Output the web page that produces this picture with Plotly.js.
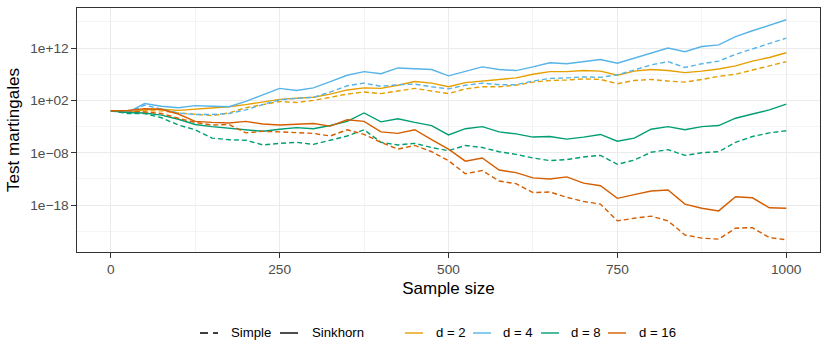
<!DOCTYPE html>
<html>
<head>
<meta charset="utf-8">
<script src="https://cdn.plot.ly/plotly-3.0.1.min.js"></script>
<style>html,body{margin:0;padding:0;background:#fff;}#chart{width:830px;height:363px;}</style>
</head>
<body>
<div id="chart"></div>
<script>
// Sample size grid (x)
const sampleSize = [0,25,50,75,100,125,150,175,200,225,250,275,300,325,350,375,400,425,450,475,500,
  525,550,575,600,625,650,675,700,725,750,775,800,825,850,875,900,925,950,975,1000];

// log10 of the test martingale
const simple_d2 = [0,-0.3,0.0,0.0,-0.4,-0.6,-0.9,-0.4,0.6,1.2,1.8,1.6,2.0,2.6,3.2,3.6,3.3,3.8,4.3,3.8,3.3,
  4.2,4.6,4.6,4.9,5.5,5.8,5.9,6.1,6.0,5.2,5.8,6.0,5.7,5.5,6.0,6.6,7.0,7.8,8.6,9.4];
const sinkhorn_d2 = [0,-0.2,0.2,0.3,0.1,0.3,0.5,0.8,1.2,1.7,2.2,2.4,2.6,3.2,4.0,4.4,4.3,4.9,5.6,5.3,4.6,
  5.4,5.7,6.0,6.3,7.0,7.5,7.5,7.7,7.6,6.8,7.6,7.9,7.7,7.3,7.6,8.0,8.6,9.5,10.2,11.1];
const simple_d4 = [0,-0.4,1.1,0.4,-0.4,-0.7,-0.7,-0.5,0.2,1.2,2.1,2.4,2.6,3.6,4.8,5.3,4.7,5.0,5.1,4.6,4.2,
  4.9,5.3,5.0,5.0,5.7,6.2,6.3,6.5,6.4,6.9,7.8,8.8,9.4,8.3,9.0,9.5,10.8,11.8,12.8,13.9];
const sinkhorn_d4 = [0,-0.3,1.4,0.9,0.6,1.0,0.9,0.8,1.8,3.0,4.3,3.9,4.4,5.6,6.8,7.5,7.1,8.2,8.1,7.9,6.7,
  7.6,8.4,7.9,7.7,8.4,9.2,9.0,9.4,9.8,9.1,10.1,11.0,12.0,11.3,12.3,12.6,14.2,15.3,16.3,17.4];
const simple_d8 = [0,-0.5,-0.5,-1.3,-2.7,-3.6,-5.2,-5.5,-5.6,-6.5,-6.2,-6.0,-6.4,-5.6,-4.8,-3.6,-6.0,-6.5,-6.2,-7.0,-7.6,
  -6.6,-7.0,-7.8,-8.3,-9.0,-9.5,-9.3,-8.8,-8.5,-10.2,-9.4,-7.9,-7.4,-8.5,-8.0,-7.8,-6.0,-4.9,-4.2,-3.8];
const sinkhorn_d8 = [0,-0.3,-0.4,-0.8,-1.6,-2.6,-3.0,-3.3,-3.6,-3.9,-3.5,-3.2,-3.4,-2.8,-2.0,-0.4,-2.1,-1.5,-2.2,-2.8,-4.6,
  -3.4,-3.0,-4.0,-4.4,-5.0,-4.9,-5.4,-5.0,-4.5,-5.8,-5.2,-3.5,-3.0,-3.6,-3.0,-2.8,-1.4,-0.6,0.2,1.3];
const simple_d16 = [0,0,-0.2,-0.5,-1.4,-2.2,-2.7,-2.6,-4.2,-3.9,-4.0,-4.1,-4.3,-4.8,-3.6,-4.5,-6.0,-7.3,-6.6,-7.8,-9.5,
  -12.0,-11.4,-13.4,-13.9,-15.6,-15.5,-16.5,-17.3,-17.8,-21.0,-20.5,-20.1,-21.0,-23.7,-24.3,-24.5,-22.4,-22.3,-24.2,-24.6];
const sinkhorn_d16 = [0,0.1,0.4,0.3,-0.6,-2.0,-2.2,-2.3,-2.0,-2.5,-2.7,-2.6,-2.4,-2.9,-1.7,-2.0,-4.0,-4.3,-3.6,-5.5,-7.3,
  -9.6,-9.0,-11.3,-11.8,-12.8,-13.0,-12.6,-13.8,-14.3,-16.7,-16.0,-15.3,-15.1,-17.8,-18.6,-19.1,-16.4,-16.6,-18.5,-18.6];

const dimLabels = ["d = 2","d = 4","d = 8","d = 16"];
const methodLabels = ["Simple","Sinkhorn"];
const yTickVals = [1e-18,1e-8,1e2,1e12];
const yTickText = ["1e\u221218","1e\u221208","1e+02","1e+12"];
const xTickVals = [0,250,500,750,1000];

const colors = ["#E69F00","#56B4E9","#009E73","#D55E00"];
const seriesSets = [
  [simple_d2, sinkhorn_d2],
  [simple_d4, sinkhorn_d4],
  [simple_d8, sinkhorn_d8],
  [simple_d16, sinkhorn_d16]
];
const dashes = ["5px,3px","solid"];

const traces = [];
seriesSets.forEach((pair, i) => {
  pair.forEach((vals, j) => {
    traces.push({
      x: sampleSize,
      y: vals.map(v => Math.pow(10, v)),
      type: "scatter",
      mode: "lines",
      name: methodLabels[j] + ", " + dimLabels[i],
      line: {color: colors[i], width: 1.4, dash: dashes[j]},
      showlegend: false,
      hoverinfo: "skip"
    });
  });
});

const FONT = "Liberation Sans, Arial, Helvetica, sans-serif";
const W = 830, H = 363, ML = 77, MR = 10, MT = 8, MB = 111;
const pw = W - ML - MR, ph = H - MT - MB;
const px = v => (v - ML) / pw;
const py = v => (H - MB - v) / ph;

// legend (manual, ggplot-style)
const legY = 333;
const legendKeys = [
  {x0: 200, x1: 218, color: "#000", dash: "8px,5px", text: methodLabels[0], tx: 229},
  {x0: 280, x1: 298, color: "#000", dash: "solid", text: methodLabels[1], tx: 310},
  {x0: 405, x1: 423, color: colors[0], dash: "solid", text: dimLabels[0], tx: 434},
  {x0: 473, x1: 491, color: colors[1], dash: "solid", text: dimLabels[1], tx: 501},
  {x0: 541, x1: 559, color: colors[2], dash: "solid", text: dimLabels[2], tx: 569},
  {x0: 608, x1: 626, color: colors[3], dash: "solid", text: dimLabels[3], tx: 637}
];

const shapes = [{
  type: "line", xref: "paper", yref: "y", x0: 0, x1: 1, y0: 0, y1: 0,
  line: {color: "#ADADAD", width: 1.3, dash: "11px,4px"}, layer: "above"
}];
const annotations = [];
legendKeys.forEach(k => {
  shapes.push({type: "line", xref: "paper", yref: "paper",
    x0: px(k.x0), x1: px(k.x1), y0: py(legY), y1: py(legY),
    line: {color: k.color, width: 1.4, dash: k.dash}});
  annotations.push({xref: "paper", yref: "paper", x: px(k.tx), y: py(legY),
    xanchor: "left", yanchor: "middle", text: k.text, showarrow: false,
    font: {family: FONT, size: 13.2, color: "#000"}});
});

const layout = {
  width: W, height: H,
  margin: {l: ML, r: MR, t: MT, b: MB, pad: 0},
  paper_bgcolor: "#fff", plot_bgcolor: "#fff",
  font: {family: FONT},
  showlegend: false,
  xaxis: {
    range: [-50, 1050], tickvals: xTickVals, ticktext: xTickVals.map(String),
    ticks: "outside", ticklen: 4.5, tickwidth: 1.1, tickcolor: "#333333",
    showline: true, linecolor: "#333333", linewidth: 1.1, mirror: true,
    showgrid: true, gridcolor: "#EBEBEB", gridwidth: 1.1, zeroline: false,
    minor: {tickvals: [125, 375, 625, 875], showgrid: true, gridcolor: "#EBEBEB", gridwidth: 0.55, ticks: ""},
    tickfont: {family: FONT, size: 13.7, color: "#4D4D4D"},
    title: {text: "Sample size", font: {family: FONT, size: 17, color: "#000"}, standoff: 6},
    automargin: false
  },
  yaxis: {
    type: "log", range: [-26.95, 19.65], tickvals: yTickVals, ticktext: yTickText,
    ticks: "outside", ticklen: 4.5, tickwidth: 1.1, tickcolor: "#333333",
    showline: true, linecolor: "#333333", linewidth: 1.1, mirror: true,
    showgrid: true, gridcolor: "#EBEBEB", gridwidth: 1.1, zeroline: false,
    minor: {tickvals: [1e-23, 1e-13, 1e-3, 1e7, 1e17], showgrid: true, gridcolor: "#EBEBEB", gridwidth: 0.55, ticks: ""},
    tickfont: {family: FONT, size: 13.7, color: "#4D4D4D"},
    title: {text: "Test martingales", font: {family: FONT, size: 17, color: "#000"}, standoff: 6},
    automargin: false
  },
  shapes: shapes,
  annotations: annotations
};

Plotly.newPlot("chart", traces, layout, {staticPlot: true, displayModeBar: false});
</script>
</body>
</html>
